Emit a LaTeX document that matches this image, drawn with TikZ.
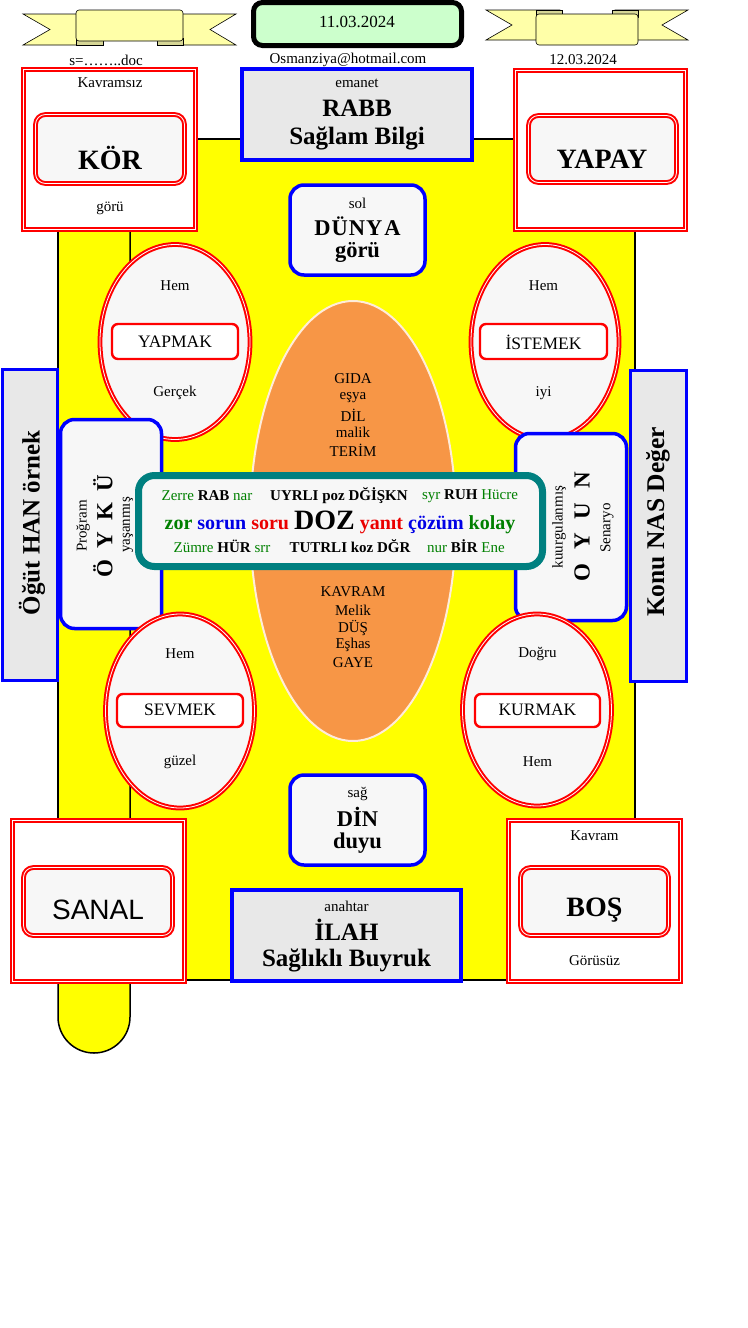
\documentclass[tikz,border=0pt]{standalone}
\usepackage{fontspec}
\setmainfont{Liberation Serif}
\newfontfamily\arialf{Liberation Sans}
\usetikzlibrary{shapes.geometric}
\definecolor{ylw}{RGB}{255,255,0}
\definecolor{ban}{RGB}{255,255,168}
\definecolor{banfold}{RGB}{214,214,150}
\definecolor{datefill}{RGB}{204,255,204}
\definecolor{grayfill}{RGB}{232,232,232}
\definecolor{boxfill}{RGB}{247,247,247}
\definecolor{orng}{RGB}{247,150,70}
\definecolor{tealc}{RGB}{0,128,128}
\definecolor{tgreen}{RGB}{0,128,0}
\definecolor{tblue}{RGB}{0,0,230}
\definecolor{tred}{RGB}{235,0,0}
\definecolor{bblue}{RGB}{0,0,255}
\newcommand{\fs}[1]{\fontsize{#1}{#1}\selectfont}
\begin{document}
\begin{tikzpicture}[x=1pt,y=-1pt,
  every node/.style={inner sep=0pt, outer sep=0pt},
  sz/.style 2 args={minimum width=#1pt, minimum height=#2pt},
  txt/.style={font=\fs{15}},
  redbox/.style={draw=red, double=white, double distance=0.8pt, line width=2pt, fill=white},
  redrnd/.style={redbox, fill=boxfill, rounded corners=10pt},
  blubox/.style={draw=bblue, line width=3.5pt, fill=grayfill},
  blurnd/.style={draw=bblue, line width=3.5pt, fill=boxfill, rounded corners=14pt},
  ell/.style={ellipse, draw=red, double=white, double distance=0.8pt, line width=2pt, fill=boxfill},
  inrect/.style={draw=red, line width=2.4pt, fill=white, rounded corners=6pt},
  verb/.style={font=\fs{17.5}},
  big/.style={font=\bfseries\fs{28}},
  mid/.style={font=\bfseries\fs{25}},
  dn/.style={font=\bfseries\fs{22.5}},
  bannerline/.style={draw=black, line width=0.6pt}
]
\useasboundingbox (0,0) rectangle (747,1328);
\fill[white] (0,0) rectangle (747,1328);

% ---------- banners ----------
\filldraw[fill=ban, bannerline] (23,14) -- (95,14) -- (95,45) -- (23,45) -- (50,29.5) -- cycle;
\filldraw[fill=ban, bannerline] (236,14) -- (165,14) -- (165,45) -- (236,45) -- (210,29.5) -- cycle;
\filldraw[fill=banfold, bannerline] (76,38) rectangle (103,45);
\filldraw[fill=banfold, bannerline] (157,38) rectangle (183,45);
\filldraw[fill=ban, bannerline, rounded corners=3pt] (76,10) rectangle (183,41);

\filldraw[fill=ban, bannerline] (486,10) -- (560,10) -- (560,40) -- (486,40) -- (512,25) -- cycle;
\filldraw[fill=ban, bannerline] (688,10) -- (615,10) -- (615,40) -- (688,40) -- (662,25) -- cycle;
\filldraw[fill=banfold, bannerline] (536,10) rectangle (562,17);
\filldraw[fill=banfold, bannerline] (612,10) rectangle (638,17);
\filldraw[fill=ban, bannerline, rounded corners=3pt] (536,14) rectangle (638,45);

% ---------- date ----------
\node[draw=black, line width=5pt, fill=datefill, rounded corners=9pt, sz={208}{43}] (datebox) at (357.5,24) {};
\node[font=\fs{17}] (datet) at (357,22) {11.03.2024};

\node[txt] (fname) at (106,60) {s=……..doc};
\node[txt] (mail) at (348,60) {Osmanziya@hotmail.com};
\node[txt] (date2) at (583,60) {12.03.2024};

% ---------- yellow background ----------
\filldraw[fill=ylw, line width=1.5pt] (58,139) rectangle (635,980);
\filldraw[fill=ylw, line width=1.5pt] (58,139) -- (58,1017) arc[start angle=180, end angle=360, radius=36pt] -- (130,139) -- cycle;

% ---------- top row ----------
\node[redbox, sz={172}{160}] (korO) at (109.5,149.5) {};
\node[redrnd, sz={149}{69}] (korI) at (110,149) {};
\node[txt] (korA) at (110,83) {Kavramsız};
\node[big] (korT) at (110,158) {KÖR};
\node[txt] (korB) at (110,208) {görü};

\node[blubox, sz={230}{91}] (rabb) at (357,114.5) {};
\node[txt] (rabbA) at (357,83) {emanet};
\node[mid] (rabbT) at (357,108) {RABB};
\node[mid] (rabbB) at (357,138) {Sağlam Bilgi};

\node[redbox, sz={170}{159}] (yapayO) at (600.5,150) {};
\node[redrnd, sz={148}{67}] (yapayI) at (602.5,149) {};
\node[big] (yapayT) at (602,159) {YAPAY};

\node[blurnd, sz={135}{90}] (dunya) at (357.5,230) {};
\node[txt] (dunyaA) at (357.5,203) {sol};
\node[dn] (dunyaT) at (357.5,226) {D\kern1ptÜ\kern1ptN\kern1ptY\kern2ptA};
\node[dn] (dunyaB) at (357.5,252) {görü};

% ---------- upper ellipses ----------
\node[ell, sz={150}{195}] (yapmakE) at (175,342) {};
\node[inrect, sz={126}{35}] (yapmakR) at (175,341.5) {};
\node[verb] (yapmakT) at (175,342) {YAPMAK};
\node[txt] (yapmakA) at (175,286) {Hem};
\node[txt] (yapmakB) at (175,393) {Gerçek};

\node[ell, sz={148}{195}] (istemekE) at (545,342) {};
\node[inrect, sz={127}{35}] (istemekR) at (543.5,341.5) {};
\node[verb] (istemekT) at (543.5,342) {İSTEMEK};
\node[txt] (istemekA) at (543.5,286) {Hem};
\node[txt] (istemekB) at (543.5,393) {iyi};

% ---------- central orange ellipse ----------
\node[ellipse, draw=white!85!orange, line width=2pt, fill=orng, sz={206}{440}] (core) at (353,521) {};
\node[txt] (c1) at (353,379) {GIDA};
\node[txt] (c2) at (353,398) {eşya};
\node[txt] (c3) at (353,415) {DİL};
\node[txt] (c4) at (353,432) {malik};
\node[txt] (c5) at (353,450) {TERİM};
\node[txt] (c6) at (353,592) {KAVRAM};
\node[txt] (c7) at (353,610) {Melik};
\node[txt] (c8) at (353,628) {DÜŞ};
\node[txt] (c9) at (353,645) {Eşhas};
\node[txt] (c10) at (353,663) {GAYE};

% ---------- side boxes ----------
\node[blubox, sz={55}{311}] (ogut) at (30,525) {};
\node[mid, rotate=90] (ogutT) at (32,523) {Öğüt HAN örnek};

\node[blurnd, sz={101}{209}] (oyku) at (111,524) {};
\node[txt, rotate=90] (oykuA) at (83,526) {Proğram};
\node[font=\bfseries\fs{23}, rotate=90] (oykuT) at (103,526) {Ö\hspace{11pt}Y\hspace{11pt}K\hspace{11pt}Ü};
\node[txt, rotate=90] (oykuB) at (128,525) {yaşanmış};

\node[blurnd, sz={111}{187}] (oyun) at (571,527) {};
\node[txt, rotate=90] (oyunA) at (559,527) {kuurgulanmış};
\node[font=\bfseries\fs{23}, rotate=90] (oyunT) at (582,527) {O\hspace{14pt}Y\hspace{14pt}U\hspace{14pt}N};
\node[txt, rotate=90] (oyunB) at (607,528) {Senaryo};

\node[blubox, sz={56}{311}] (konu) at (658.5,526) {};
\node[font=\bfseries\fs{25.5}, rotate=90] (konuT) at (658,522) {Konu NAS Değer};

% ---------- lower ellipses ----------
\node[ell, sz={149}{194}] (sevmekE) at (180,711) {};
\node[inrect, sz={126}{33}] (sevmekR) at (180,710.5) {};
\node[verb] (sevmekT) at (180,710) {SEVMEK};
\node[txt] (sevmekA) at (180,654) {Hem};
\node[txt] (sevmekB) at (180,762) {güzel};

\node[ell, sz={149}{192}] (kurmakE) at (537,710) {};
\node[inrect, sz={125}{33}] (kurmakR) at (537.5,710.5) {};
\node[verb] (kurmakT) at (537.5,710) {KURMAK};
\node[txt] (kurmakA) at (537.5,654) {Doğru};
\node[txt] (kurmakB) at (537.5,762) {Hem};

% ---------- central teal box ----------
\node[draw=tealc, line width=7pt, fill=boxfill, rounded corners=16pt, sz={404}{91}] (doz) at (340.5,521) {};
\node[font=\fs{15}] (l1a) at (207,496) {{\color{tgreen}Zerre} \textbf{RAB} {\color{tgreen}nar}};
\node[font=\bfseries\fs{15}] (l1b) at (339,496) {UYRLI poz DĞİŞKN};
\node[font=\fs{15}] (l1c) at (470,496) {{\color{tgreen}syr} \textbf{RUH} {\color{tgreen}Hücre}};
\node[font=\bfseries\fs{20}] (l2) at (340,522) {{\color{tgreen}zor} {\color{tblue}sorun} {\color{tred}soru} {\fs{28}DOZ} {\color{tred}yanıt} {\color{tblue}çözüm} {\color{tgreen}kolay}};
\node[font=\fs{15}] (l3a) at (222,546) {{\color{tgreen}Zümre} \textbf{HÜR} {\color{tgreen}srr}};
\node[font=\bfseries\fs{15}] (l3b) at (350,546) {TUTRLI koz DĞR};
\node[font=\fs{15}] (l3c) at (466,546) {{\color{tgreen}nur} \textbf{BİR} {\color{tgreen}Ene}};

% ---------- bottom ----------
\node[blurnd, sz={135}{90}] (din) at (357.5,820) {};
\node[txt] (dinA) at (357.5,794) {sağ};
\node[dn] (dinT) at (357.5,817) {DİN};
\node[dn] (dinB) at (357.5,843) {duyu};

\node[redbox, sz={172}{161}] (sanalO) at (98.5,901) {};
\node[redrnd, sz={149}{68}] (sanalI) at (98,901.5) {};
\node[font=\arialf\fs{28}] (sanalT) at (98,910) {SANAL};

\node[blubox, sz={229}{91}] (ilah) at (346.5,935.5) {};
\node[txt] (ilahA) at (346.5,906) {anahtar};
\node[mid] (ilahT) at (346.5,930) {İLAH};
\node[mid] (ilahB) at (346.5,960) {Sağlıklı Buyruk};

\node[redbox, sz={172}{161}] (bosO) at (594.5,901) {};
\node[redrnd, sz={148}{68}] (bosI) at (594.5,901.5) {};
\node[txt] (bosA) at (594.5,836) {Kavram};
\node[big] (bosT) at (594.5,910) {BOŞ};
\node[txt] (bosB) at (594.5,961) {Görüsüz};
\end{tikzpicture}
\end{document}
